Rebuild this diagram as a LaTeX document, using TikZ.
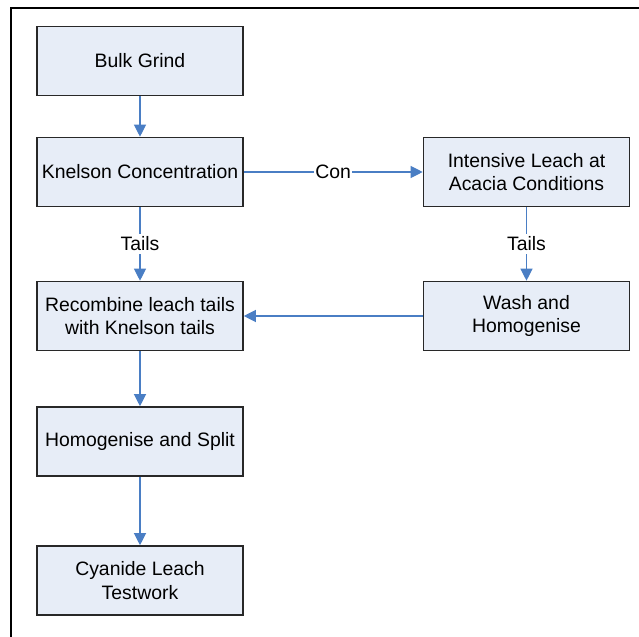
\documentclass[tikz,border=0pt]{standalone}
\usepackage{fontspec}
\setmainfont{Liberation Sans}
\usetikzlibrary{arrows.meta}
\usepackage{xcolor}
\definecolor{boxfill}{RGB}{231,237,247}
\definecolor{boxline}{RGB}{40,40,40}
\definecolor{flowblue}{RGB}{74,126,196}

\begin{document}
\begin{tikzpicture}[x=0.5pt, y=-0.5pt,
	stepbox/.style={draw=boxline, line width=0.8pt, fill=boxfill, minimum width=103pt, minimum height=34.5pt, inner sep=0pt, align=center, font=\fontsize{9.7}{11.6}\selectfont},
	flow/.style={draw=flowblue, line width=0.6pt, -{Triangle[length=6pt,width=6pt]}},
	lab/.style={fill=white, inner xsep=0.6pt, inner ysep=1.5pt, font=\fontsize{9.7}{11.6}\selectfont}]
	\useasboundingbox (0,0) rectangle (639,637);
	\draw [line width=1pt] (639,8) -- (11,8) -- (11,637);
	\node [stepbox] (grind) at (140,61) {Bulk Grind};
	\node [stepbox] (knelson) at (140,172) {Knelson Concentration};
	\node [stepbox] (intensive) at (526.5,172) {Intensive Leach at\\Acacia Conditions};
	\node [stepbox] (recombine) at (140,316) {Recombine leach tails\\with Knelson tails};
	\node [stepbox] (wash) at (526.5,316) {Wash and\\Homogenise};
	\node [stepbox] (homog) at (140,441.5) {Homogenise and Split};
	\node [stepbox] (cyanide) at (140,580.5) {Cyanide Leach\\Testwork};
	\draw [flow] (grind) -- (knelson);
	\draw [flow] (knelson) -- node[lab]{Con} (intensive);
	\draw [flow] (knelson) -- node[lab]{Tails} (recombine);
	\draw [flow] (intensive) -- node[lab]{Tails} (wash);
	\draw [flow] (wash) -- (recombine);
	\draw [flow] (recombine) -- (homog);
	\draw [flow] (homog) -- (cyanide);
\end{tikzpicture}
\end{document}
